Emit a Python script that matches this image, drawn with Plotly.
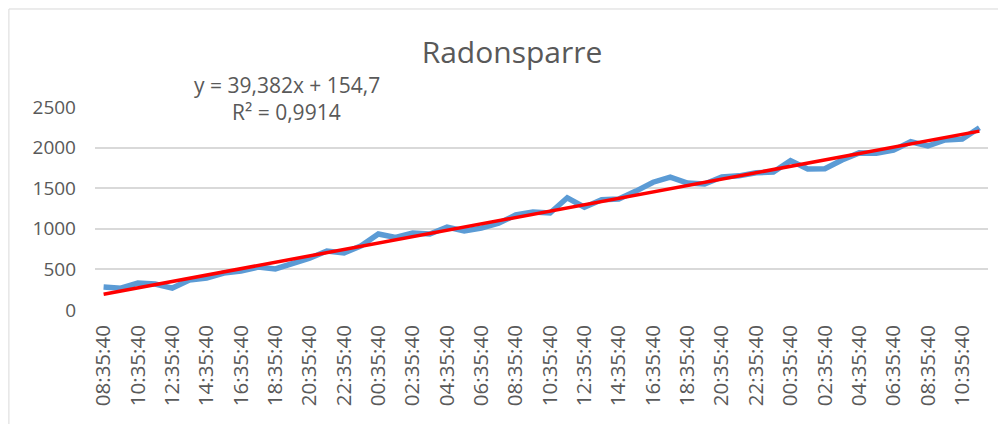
import plotly.graph_objects as go

# ---- data ----
hours = [8, 9, 10, 11, 12, 13, 14, 15, 16, 17, 18, 19, 20, 21, 22, 23,
         0, 1, 2, 3, 4, 5, 6, 7, 8, 9, 10, 11, 12, 13, 14, 15, 16, 17, 18, 19,
         20, 21, 22, 23, 0, 1, 2, 3, 4, 5, 6, 7, 8, 9, 10, 11]
time_labels = [f"{h:02d}:35:40" for h in hours]
radon = [283, 268, 332, 320, 270, 368, 392, 455, 480, 528, 505, 575, 638, 727,
         702, 790, 936, 895, 948, 936, 1022, 973, 1008, 1068, 1170, 1207, 1195,
         1382, 1265, 1357, 1367, 1464, 1574, 1636, 1564, 1552, 1638, 1652, 1690,
         1700, 1840, 1736, 1740, 1847, 1935, 1930, 1968, 2072, 2020, 2094, 2106,
         2245]
trend_slope = 39.382
trend_intercept = 154.7
r_squared = 0.9914
title_text = "Radonsparre"
y_ticks = [0, 500, 1000, 1500, 2000, 2500]

x_idx = list(range(1, len(radon) + 1))
trend = [trend_slope * x + trend_intercept for x in x_idx]

FONT = "Open Sans"
GREY = "#595959"

fig = go.Figure()
fig.add_trace(go.Scatter(x=x_idx, y=radon, mode="lines",
                         line=dict(color="#5b9bd5", width=5.5), showlegend=False))
fig.add_trace(go.Scatter(x=x_idx, y=trend, mode="lines",
                         line=dict(color="#ff0000", width=3.5), showlegend=False))

fmt = lambda v: str(v).replace('.', ',')

fig.update_layout(
    width=998, height=416,
    margin=dict(l=87, r=18, t=99, b=114),
    paper_bgcolor="white", plot_bgcolor="white",
    font=dict(family=FONT, color=GREY, size=19),
    title=dict(text=title_text, x=0.505, y=0.894, xanchor="center", yanchor="middle",
               xref="container", yref="container",
               font=dict(family=FONT, size=30, color=GREY)),
    xaxis=dict(range=[0.5, len(radon) + 0.5],
               tickvals=x_idx[::2], ticktext=time_labels[::2],
               tickangle=-90, showgrid=False, zeroline=False, showline=False,
               ticks="", ticklen=0, ticklabelstandoff=10,
               tickfont=dict(size=20.5, color=GREY, family=FONT)),
    yaxis=dict(range=[0, 2500], tickvals=y_ticks, showgrid=True,
               gridcolor="#d9d9d9", gridwidth=1.5, zeroline=False, showline=False,
               ticks="", ticklabelstandoff=18,
               tickfont=dict(size=19, color=GREY, family=FONT)),
    annotations=[
        dict(text=f"y = {fmt(trend_slope)}x + {fmt(trend_intercept)}",
             xref="paper", yref="paper", x=0.215, y=1.108, showarrow=False,
             xanchor="center", yanchor="middle", font=dict(size=21, color=GREY, family=FONT)),
        dict(text=f"R² = {fmt(r_squared)}",
             xref="paper", yref="paper", x=0.215, y=0.975, showarrow=False,
             xanchor="center", yanchor="middle", font=dict(size=21, color=GREY, family=FONT)),
    ],
    shapes=[dict(type="rect", xref="paper", yref="paper",
                 x0=-0.0964, x1=1.0134, y0=-0.6, y1=1.4828,
                 line=dict(color="#d9d9d9", width=1), layer="below")],
)

fig.write_html("out.html")
